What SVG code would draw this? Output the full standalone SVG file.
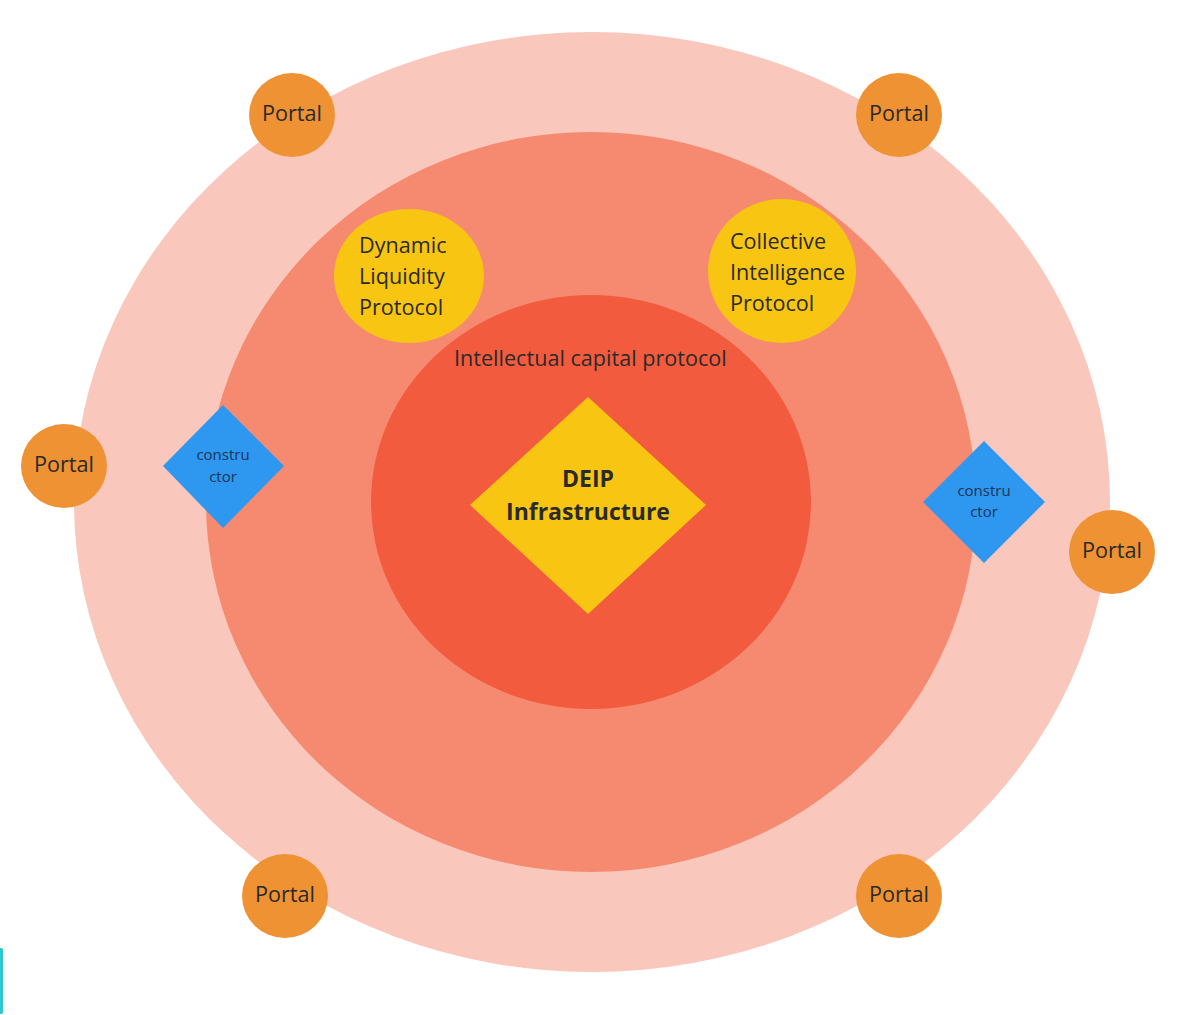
<svg xmlns="http://www.w3.org/2000/svg" width="1177" height="1015" viewBox="0 0 1177 1015">
<style>
text{font-family:"Open Sans","Noto Sans","Liberation Sans",sans-serif;fill:#2a2a2a}
.portal{fill:#EE9233}
.yc{fill:#F8C512}
.con{fill:#2E97F0}
.pt{font-size:21.6px;text-anchor:middle}
.lt{font-size:21.6px}
.ct{font-size:15px;text-anchor:middle;fill:#1d3557}
.bt{font-size:23px;font-weight:bold;text-anchor:middle}
</style>
<rect width="1177" height="1015" fill="#ffffff"/>
<g id="layers">
<ellipse id="outer" cx="592" cy="502" rx="518" ry="470" fill="#F9C7BB"/>
<ellipse id="middle" cx="591" cy="502" rx="385" ry="370" fill="#F58A70"/>
<ellipse id="inner" cx="591" cy="502" rx="220" ry="207" fill="#F35B3E"/>
</g>
<g id="connectors"></g>
<g id="icp"><text class="lt" x="454" y="366">Intellectual capital protocol</text></g>
<g id="dlp"><ellipse class="yc" cx="409" cy="276" rx="75" ry="67"/>
<text class="lt" x="359" y="253">Dynamic</text><text class="lt" x="359" y="284">Liquidity</text><text class="lt" x="359" y="315">Protocol</text></g>
<g id="cip"><ellipse class="yc" cx="782" cy="271" rx="74" ry="72"/>
<text class="lt" x="730" y="249">Collective</text><text class="lt" x="730" y="280">Intelligence</text><text class="lt" x="730" y="311">Protocol</text></g>
<g id="deip"><polygon class="yc" points="588,397 706,505 588,614 470,505"/>
<text class="bt" x="588" y="487">DEIP</text><text class="bt" x="588" y="520">Infrastructure</text></g>
<g id="con1"><polygon class="con" points="223,405 284,466 223,528 163,466"/>
<text class="ct" x="223" y="460">constru</text><text class="ct" x="223" y="482">ctor</text></g>
<g id="con2"><polygon class="con" points="984,441 1045,502 984,563 923,502"/>
<text class="ct" x="984" y="496">constru</text><text class="ct" x="984" y="517">ctor</text></g>
<g id="p1"><ellipse class="portal" cx="292" cy="115" rx="43" ry="42"/><text class="pt" x="292" y="121">Portal</text></g>
<g id="p2"><ellipse class="portal" cx="899" cy="115" rx="43" ry="42"/><text class="pt" x="899" y="121">Portal</text></g>
<g id="p3"><ellipse class="portal" cx="64" cy="466" rx="43" ry="42"/><text class="pt" x="64" y="472">Portal</text></g>
<g id="p4"><ellipse class="portal" cx="1112" cy="552" rx="43" ry="42"/><text class="pt" x="1112" y="558">Portal</text></g>
<g id="p5"><ellipse class="portal" cx="285" cy="896" rx="43" ry="42"/><text class="pt" x="285" y="902">Portal</text></g>
<g id="p6"><ellipse class="portal" cx="899" cy="896" rx="43" ry="42"/><text class="pt" x="899" y="902">Portal</text></g>
<rect x="-2" y="948" width="5" height="66" rx="2" fill="#2CC6D0"/>
</svg>
